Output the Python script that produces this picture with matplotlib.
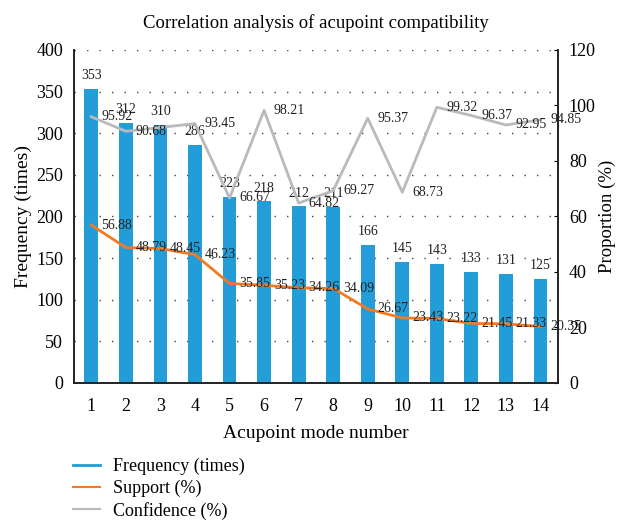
import matplotlib.pyplot as plt
from matplotlib.lines import Line2D

plt.rcParams['font.family'] = ['Liberation Serif', 'DejaVu Serif']

# 数据
modes = list(range(1, 15))
frequency = [353, 312, 310, 286, 223, 218, 212, 211, 166, 145, 143, 133, 131, 125]
support = [56.88, 48.79, 48.45, 46.23, 35.85, 35.23, 34.26, 34.09, 26.67, 23.43, 23.22, 21.45, 21.33, 20.35]
confidence = [95.92, 90.68, 92.06, 93.45, 66.67, 98.21, 64.82, 69.27, 95.37, 68.73, 99.32, 96.37, 92.95, 94.85]
# 第3个置信度标签在原图中不可见
confidence_labels = ['95.92', '90.68', '', '93.45', '66.67', '98.21', '64.82', '69.27',
                     '95.37', '68.73', '99.32', '96.37', '92.95', '94.85']

blue = '#229DD8'
orange = '#F27A22'
gray = '#B9B9BE'

fig = plt.figure(figsize=(6.17, 5.2), dpi=100)
ax = fig.add_axes([0.12, 0.2635, 0.784, 0.6405])
ax2 = ax.twinx()

# 柱状图
ax.bar(modes, frequency, width=0.4, color=blue, zorder=2)
for x, v in zip(modes, frequency):
    ax.annotate(str(v), (x, v), xytext=(0, 5), textcoords='offset points',
                ha='center', va='bottom', fontsize=10, color='#222222')

ax.set_xlim(0.5, 14.5)
ax.set_ylim(0, 400)
ax.set_yticks(range(0, 401, 50))
ax.set_xticks(modes)
ax.grid(axis='y', color='#444444', linestyle=(0, (1, 8)), linewidth=1.0, zorder=0)
ax.set_axisbelow(True)

# 折线
ax2.plot(modes, support, color=orange, linewidth=2, zorder=3)
ax2.plot(modes, confidence, color=gray, linewidth=2, zorder=3)
for x, v in zip(modes, support):
    ax2.annotate(f'{v:.2f}', (x, v), xytext=(7, 0), textcoords='offset points',
                 ha='left', va='center', fontsize=10, color='#222222')
for x, v, s in zip(modes, confidence, confidence_labels):
    ax2.annotate(s, (x, v), xytext=(7, 0), textcoords='offset points',
                 ha='left', va='center', fontsize=10, color='#222222')
ax2.set_ylim(0, 120)
ax2.set_yticks(range(0, 121, 20))

for a in (ax, ax2):
    a.spines['top'].set_visible(False)
    for s in ('left', 'right', 'bottom'):
        a.spines[s].set_color('#222222')
        a.spines[s].set_linewidth(1.2)
ax.tick_params(axis='y', length=0, labelsize=13, pad=8)
ax.tick_params(axis='x', length=0, labelsize=13, pad=11)
ax2.tick_params(axis='y', length=3, direction='in', labelsize=13, pad=8)

ax.set_xlabel('Acupoint mode number', fontsize=14, labelpad=7)
ax.set_ylabel('Frequency (times)', fontsize=14, labelpad=3)
ax2.set_ylabel('Proportion (%)', fontsize=13.5, labelpad=2)
ax.set_title('Correlation analysis of acupoint compatibility', fontsize=13.5, pad=16)

handles = [Line2D([], [], color=blue, linewidth=2),
           Line2D([], [], color=orange, linewidth=1.5),
           Line2D([], [], color=gray, linewidth=1.5)]
fig.legend(handles, ['Frequency (times)', 'Support (%)', 'Confidence (%)'],
           loc='upper left', bbox_to_anchor=(0.107, 0.133), frameon=False,
           fontsize=13, handlelength=1.5, handletextpad=0.7, labelspacing=0.25,
           borderaxespad=0)

plt.savefig('out.png', dpi=100)
